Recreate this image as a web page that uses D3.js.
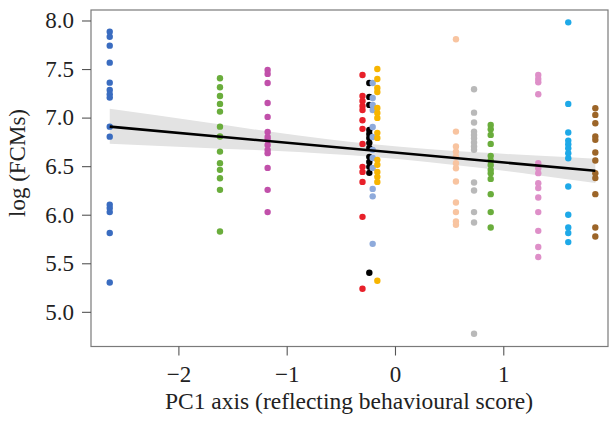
<!DOCTYPE html>
<html>
<head>
<meta charset="utf-8">
<script src="https://cdn.jsdelivr.net/npm/d3@7"></script>
<style>
body { margin:0; background:#fff; }
text { font-family:"Liberation Serif","Times New Roman",serif; fill:#222; }
</style>
</head>
<body>
<svg id="FCMChart"></svg>
<script>
// PC1 score of each group (x) and log FCM values (y)
var groupX = [-2.634, -1.616, -1.176, -0.30, -0.237, -0.206, -0.163, 0.563, 0.73, 0.884, 1.323, 1.60, 1.85];
var groupColors = ["#3a6cc0","#6aad3c","#c150aa","#e8202a","#000000","#8eaadb","#f7b500",
                   "#f8c4a0","#b9b9b9","#6aad3c","#de8fc8","#1ea9e8","#9c6528"];

var blueVals = [7.885,7.833,7.741,7.566,7.360,7.285,7.241,7.206,6.907,6.804,6.102,6.068,6.027,5.811,5.302];
var greenVals = [7.405,7.313,7.223,7.141,7.062,6.907,6.805,6.650,6.531,6.462,6.376,6.256,5.827];
var magentaVals = [7.491,7.450,7.357,7.151,7.007,6.853,6.801,6.770,6.719,6.668,6.634,6.482,6.256,6.027];
var redVals = [7.439,7.223,7.172,7.120,7.079,6.972,6.884,6.729,6.493,6.441,6.338,5.978,5.237];
var blackVals = [7.357,7.213,7.131,6.873,6.832,6.791,6.740,6.688,6.596,6.544,6.493,6.431,5.402];
var lightBlueVals = [7.357,7.202,7.131,7.079,6.904,6.801,6.668,6.585,6.482,6.266,6.189,5.700];
var orangeVals = [7.501,7.398,7.306,7.264,7.100,7.048,6.997,6.843,6.791,6.565,6.514,6.441,6.390,6.338,5.320];
var peachVals = [7.807,6.856,6.702,6.650,6.599,6.531,6.479,6.342,6.126,6.027,5.930,5.896];
var greyVals = [7.292,7.051,6.949,6.856,6.822,6.788,6.743,6.702,6.668,6.331,6.249,6.027,5.920,4.775];
var green2Vals = [6.925,6.881,6.822,6.729,6.606,6.558,6.513,6.462,6.428,6.369,6.212,6.027,5.868];
var pinkVals = [7.439,7.398,7.364,7.241,6.531,6.479,6.428,6.325,6.274,6.177,6.027,5.834,5.667,5.564];
var cyanVals = [7.981,7.141,6.846,6.763,6.726,6.685,6.634,6.582,6.290,5.999,5.868,5.811,5.718];
var brownVals = [7.097,7.028,6.942,6.805,6.771,6.640,6.558,6.428,6.377,6.212,5.868,5.776];

var groupVals = [blueVals,greenVals,magentaVals,redVals,blackVals,lightBlueVals,orangeVals,
                 peachVals,greyVals,green2Vals,pinkVals,cyanVals,brownVals];

// fitted line and its confidence band
var fitX = [-2.634, 1.85];
var fitY = [6.907, 6.452];
var bandX = [-2.634, -1.8, -1.18, -0.6, -0.2, 0.3, 0.8, 1.3, 1.85];
var bandLow = [6.73, 6.69, 6.66, 6.625, 6.595, 6.543, 6.48, 6.41, 6.327];
var bandHigh = [7.09, 6.96, 6.86, 6.775, 6.725, 6.677, 6.64, 6.61, 6.577];

var xTicks = [-2, -1, 0, 1];
var yTicks = [5.0, 5.5, 6.0, 6.5, 7.0, 7.5, 8.0];

var screen = {width:611, height:423};
var panel = {left:91, right:608, top:10, bottom:346.5};

var svg = d3.select("#FCMChart")
    .attr("width",screen.width)
    .attr("height",screen.height);

var xScale = d3.scaleLinear()
    .domain([-2.807, 1.967])
    .range([panel.left, panel.right]);

var yScale = d3.scaleLinear()
    .domain([4.643, 8.108])
    .range([panel.bottom, panel.top]);

// band
var bandPts = bandX.map(function(x,i){ return {x:x, lo:bandLow[i], hi:bandHigh[i]}; });
var area = d3.area()
    .x(function(d){ return xScale(d.x); })
    .y0(function(d){ return yScale(d.lo); })
    .y1(function(d){ return yScale(d.hi); })
    .curve(d3.curveMonotoneX);
svg.append("path")
    .datum(bandPts)
    .attr("d",area)
    .attr("fill","#e3e3e3");

// points
var points = [];
groupVals.forEach(function(vals,g){
    vals.forEach(function(v){
        points.push({x:groupX[g], y:v, color:groupColors[g]});
    });
});

svg.append("g")
    .selectAll("circle")
    .data(points)
    .enter()
    .append("circle")
    .attr("cx",function(d){ return xScale(d.x); })
    .attr("cy",function(d){ return yScale(d.y); })
    .attr("r",3.2)
    .attr("fill",function(d){ return d.color; });

// fit line
var line = d3.line()
    .x(function(d){ return xScale(d[0]); })
    .y(function(d){ return yScale(d[1]); });
svg.append("path")
    .datum(fitX.map(function(x,i){ return [x, fitY[i]]; }))
    .attr("d",line)
    .attr("stroke","#000")
    .attr("stroke-width",2.6)
    .attr("fill","none");

// panel box
svg.append("rect")
    .attr("x",panel.left)
    .attr("y",panel.top)
    .attr("width",panel.right-panel.left)
    .attr("height",panel.bottom-panel.top)
    .attr("fill","none")
    .attr("stroke","#7a7a7a")
    .attr("stroke-width",1.2);

// axes
var xAxis = d3.axisBottom(xScale)
    .tickValues(xTicks)
    .tickSize(9)
    .tickPadding(10)
    .tickFormat(function(d){ return d < 0 ? "\u2212" + Math.abs(d) : d; });
var gx = svg.append("g")
    .attr("transform","translate(0,"+panel.bottom+")")
    .call(xAxis);

var yAxis = d3.axisLeft(yScale)
    .tickValues(yTicks)
    .tickSize(9)
    .tickPadding(8)
    .tickFormat(d3.format(".1f"));
var gy = svg.append("g")
    .attr("transform","translate("+panel.left+",0)")
    .call(yAxis);

[gx,gy].forEach(function(g){
    g.select(".domain").remove();
    g.selectAll(".tick line").attr("stroke","#555").attr("stroke-width",1.1);
    g.selectAll(".tick text")
        .attr("font-family","Liberation Serif, Times New Roman, serif")
        .attr("font-size",23)
        .attr("fill","#222");
});

// labels
svg.append("text")
    .text("PC1 axis (reflecting behavioural score)")
    .attr("text-anchor","middle")
    .attr("x",349)
    .attr("y",409)
    .attr("font-size",23.5);

svg.append("g")
    .attr("transform","translate(25,163)")
    .append("text")
    .text("log (FCMs)")
    .attr("text-anchor","middle")
    .attr("transform","rotate(270)")
    .attr("font-size",23);
</script>
</body>
</html>
